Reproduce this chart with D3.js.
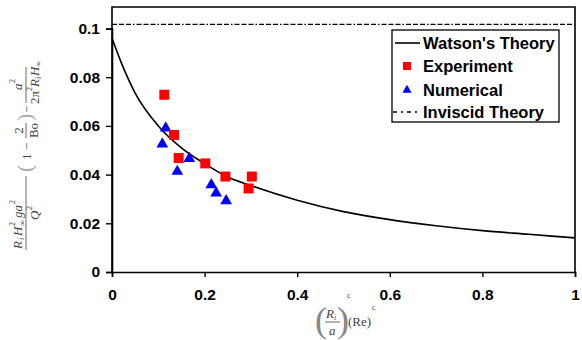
<!DOCTYPE html>
<html><head><meta charset="utf-8">
<script src="https://cdn.jsdelivr.net/npm/d3@7"></script>
<style>
body{margin:0;background:#fff;}
svg text{font-family:"Liberation Sans",Arial,sans-serif;}
</style></head>
<body><svg id="c" width="582" height="340"></svg>
<script>
// ---- data ----
const xTicks = [0, 0.2, 0.4, 0.6, 0.8, 1];
const yTicks = [0, 0.02, 0.04, 0.06, 0.08, 0.1];
const xTickLabels = ["0", "0.2", "0.4", "0.6", "0.8", "1"];
const yTickLabels = ["0", "0.02", "0.04", "0.06", "0.08", "0.1"];

const watsonX = [0, 0.02, 0.05, 0.1, 0.15, 0.2, 0.25, 0.3, 0.4, 0.5, 0.6, 0.7, 0.8, 0.9, 1.0];
const watsonY = [0.096, 0.086, 0.0735, 0.060, 0.051, 0.0445, 0.039, 0.0355, 0.0295, 0.0248, 0.0215, 0.019, 0.0170, 0.0155, 0.014];

const expX = [0.113, 0.134, 0.144, 0.2015, 0.245, 0.302, 0.295];
const expY = [0.0728, 0.0563, 0.0468, 0.0446, 0.0392, 0.0392, 0.0343];

const numX = [0.116, 0.1087, 0.141, 0.167, 0.2145, 0.225, 0.2465];
const numY = [0.0591, 0.0525, 0.0413, 0.0466, 0.0358, 0.0324, 0.0292];

const inviscidY = 0.1017;

const legendLabels = ["Watson's Theory", "Experiment", "Numerical", "Inviscid Theory"];

// ---- layout ----
const svg = d3.select("#c");
const L = 112, R = 575, T = 7, B = 272;
const x = d3.scaleLinear().domain([0, 1]).range([L, R]);
const y = d3.scaleLinear().domain([0, 0.1]).range([B, 28.5]);

// frame
svg.append("path")
  .attr("d", `M${L},${B} L${L},${T} L${R},${T} L${R},${B}`)
  .attr("fill", "none").attr("stroke", "#000").attr("stroke-width", 1.6);

// axes
const xAxis = d3.axisBottom(x).tickValues(xTicks).tickSize(5)
  .tickFormat((d, i) => xTickLabels[i]);
const gx = svg.append("g").attr("transform", `translate(0,${B})`).call(xAxis);
gx.select(".domain").attr("stroke-width", 1.6);
gx.selectAll(".tick line").attr("stroke-width", 1.4);
gx.selectAll("text").attr("font-size", 15.5).attr("font-weight", "bold")
  .attr("font-family", "Liberation Sans, Arial, sans-serif").attr("dy", "1.3em").attr("fill", "#000");

const yAxis = d3.axisLeft(y).tickValues(yTicks).tickSize(6)
  .tickFormat((d, i) => yTickLabels[i]);
const gy = svg.append("g").attr("transform", `translate(${L},0)`).call(yAxis);
gy.select(".domain").attr("stroke-width", 1.6);
gy.selectAll(".tick line").attr("stroke-width", 1.4);
gy.selectAll("text").attr("font-size", 15.5).attr("font-weight", "bold")
  .attr("font-family", "Liberation Sans, Arial, sans-serif").attr("x", -12).attr("fill", "#000");

// inviscid line
svg.append("line")
  .attr("x1", x(0)).attr("x2", x(1)).attr("y1", y(inviscidY)).attr("y2", y(inviscidY))
  .attr("stroke", "#000").attr("stroke-width", 1.3).attr("stroke-dasharray", "5,2,5,2,5,2,1.5,2");

// Watson curve
const pts = watsonX.map((v, i) => [v, watsonY[i]]);
svg.append("path")
  .attr("d", d3.line().x(d => x(d[0])).y(d => y(d[1])).curve(d3.curveMonotoneX)(pts))
  .attr("fill", "none").attr("stroke", "#000").attr("stroke-width", 1.6);

// numerical triangles
const tri = d3.symbol().type(d3.symbolTriangle).size(60);
svg.append("g").selectAll("path").data(numX.map((v, i) => [v, numY[i]])).join("path")
  .attr("d", tri).attr("transform", d => `translate(${x(d[0])},${y(d[1])})`)
  .attr("fill", "#0000ff");

// experiment squares
const sq = 10;
svg.append("g").selectAll("rect").data(expX.map((v, i) => [v, expY[i]])).join("rect")
  .attr("x", d => x(d[0]) - sq / 2).attr("y", d => y(d[1]) - sq / 2)
  .attr("width", sq).attr("height", sq).attr("fill", "#ff0000");

// legend
const lg = svg.append("g");
lg.append("rect").attr("x", 392).attr("y", 30).attr("width", 167).attr("height", 92)
  .attr("fill", "#fff").attr("stroke", "#000").attr("stroke-width", 1.3);
const rowY = [43, 66, 90, 112];
lg.append("line").attr("x1", 395).attr("x2", 420).attr("y1", rowY[0]).attr("y2", rowY[0])
  .attr("stroke", "#000").attr("stroke-width", 1.6);
lg.append("rect").attr("x", 403).attr("y", rowY[1] - 4).attr("width", 8).attr("height", 8).attr("fill", "#ff0000");
lg.append("path").attr("d", d3.symbol().type(d3.symbolTriangle).size(36))
  .attr("transform", `translate(407,${rowY[2]})`).attr("fill", "#0000ff");
lg.append("line").attr("x1", 393).attr("x2", 421).attr("y1", rowY[3]).attr("y2", rowY[3])
  .attr("stroke", "#000").attr("stroke-width", 1.4).attr("stroke-dasharray", "4,4,2,4");
lg.selectAll("text.lt").data(legendLabels).join("text").attr("class", "lt")
  .attr("x", 423).attr("y", (d, i) => rowY[i] + 6)
  .attr("font-size", 16.5).attr("font-weight", "bold").text(d => d);

// y axis label (math, rotated)
const ylab = svg.append("g").attr("transform", "translate(26,162) rotate(-90)")
  .attr("fill", "#444");
function t(g, xx, yy, s, opts = {}) {
  return g.append("text").attr("x", xx).attr("y", yy).text(s)
    .attr("font-size", opts.size || 13).attr("font-style", opts.italic ? "italic" : null)
    .attr("text-anchor", opts.anchor || "start").style("font-family", "Liberation Serif, Times New Roman, serif");
}
// fraction 1
ylab.append("line").attr("x1", -88).attr("x2", -14).attr("y1", 0).attr("y2", 0).attr("stroke", "#444").attr("stroke-width", 0.8);
t(ylab, -87, -4, "R", {italic: true});
t(ylab, -78, -2, "i", {size: 8, italic: true});
t(ylab, -74, -4, "H", {italic: true});
t(ylab, -64, -11, "2", {size: 8});
t(ylab, -64, -1, "∞", {size: 8});
t(ylab, -56, -4, "ga", {italic: true});
t(ylab, -42, -11, "2", {size: 8});
t(ylab, -58, 13, "Q", {italic: true});
t(ylab, -48, 6, "2", {size: 8});
// (1 - 2/Bo)
t(ylab, -10, 6, "(", {size: 22}).attr("fill", "#aaa");
t(ylab, 2, 4.5, "1");
t(ylab, 12, 4.5, "−");
ylab.append("line").attr("x1", 24).attr("x2", 39).attr("y1", 0).attr("y2", 0).attr("stroke", "#444").attr("stroke-width", 0.8);
t(ylab, 31.5, -3, "2", {anchor: "middle"});
t(ylab, 31.5, 12, "Bo", {anchor: "middle"});
t(ylab, 41, 6, ")", {size: 22}).attr("fill", "#aaa");
t(ylab, 49, 4.5, "−");
// fraction 2
ylab.append("line").attr("x1", 59).attr("x2", 95).attr("y1", 0).attr("y2", 0).attr("stroke", "#444").attr("stroke-width", 0.8);
t(ylab, 72, -4, "a", {italic: true});
t(ylab, 79, -11, "2", {size: 8});
t(ylab, 58, 13, "2π");
t(ylab, 71, 6, "2", {size: 8});
t(ylab, 75, 13, "R", {italic: true});
t(ylab, 83, 15, "i", {size: 8, italic: true});
t(ylab, 86, 13, "H", {italic: true});
t(ylab, 95, 15, "∞", {size: 8});

// x axis label
const xl = svg.append("g").attr("fill", "#444");
t(xl, 315, 332, "(", {size: 36}).attr("fill", "#888");
t(xl, 326, 318, "R", {italic: true});
t(xl, 334, 320, "i", {size: 8, italic: true});
xl.append("line").attr("x1", 325).attr("x2", 340).attr("y1", 322).attr("y2", 322).attr("stroke", "#444").attr("stroke-width", 0.8);
t(xl, 329, 335, "a", {italic: true});
t(xl, 337, 332, ")", {size: 36}).attr("fill", "#888");
t(xl, 347, 298, "c", {size: 8});
t(xl, 348, 326, "(Re)");
t(xl, 372, 310, "c", {size: 8});
</script></body></html>
